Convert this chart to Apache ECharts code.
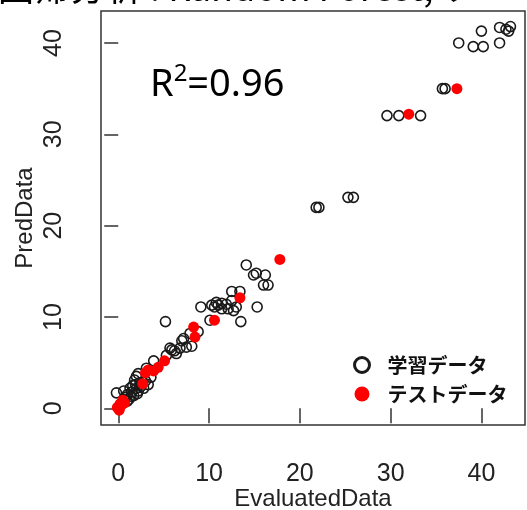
<!DOCTYPE html>
<html>
<head>
<meta charset="utf-8">
<script src="https://cdn.jsdelivr.net/npm/echarts@6/dist/echarts.min.js"></script>
<style>
html, body { margin: 0; padding: 0; background: #fff; }
#main { width: 527px; height: 510px; }
</style>
</head>
<body>
<div id="main"></div>
<script>
// 学習データ (x: EvaluatedData, y: PredData)
var trainData = [
    [37.5, 40.0], [39.1, 39.6], [40.2, 39.6], [40.0, 41.3], [42.0, 40.0],
    [42.0, 41.7], [42.7, 41.5], [43.0, 41.3], [43.2, 41.8],
    [35.7, 35.0], [36.0, 35.0],
    [29.6, 32.05], [30.9, 32.05], [33.3, 32.05],
    [25.3, 23.1], [25.9, 23.1],
    [21.8, 22.0], [22.1, 22.0],
    [14.1, 15.7], [14.9, 14.6], [15.2, 14.8], [16.2, 14.6], [16.0, 13.5], [16.5, 13.5],
    [15.3, 11.1], [13.5, 9.5],
    [12.5, 12.8], [13.4, 12.8], [10.8, 11.6], [11.4, 11.5], [11.9, 11.4], [12.7, 10.7],
    [12.1, 10.9], [11.4, 10.9], [10.6, 11.1], [10.3, 11.3], [9.1, 11.1], [12.5, 11.8],
    [13.0, 11.1], [11.0, 11.3],
    [10.1, 9.65], [5.2, 9.5],
    [7.2, 7.65], [7.9, 8.2], [8.8, 8.4], [7.5, 6.7], [6.8, 6.6], [8.1, 6.8],
    [6.4, 6.0], [5.7, 6.6], [5.3, 5.8], [7.0, 7.4], [6.2, 6.3],
    [3.9, 5.2], [5.9, 6.4], [3.1, 4.4],
    [2.2, 3.8], [1.8, 3.1], [2.0, 3.5],
    [0.5, 0.7], [0.8, 1.2], [1.0, 1.5], [1.2, 1.0], [1.5, 1.8], [1.7, 1.4],
    [2.0, 2.2], [2.2, 1.9], [2.5, 2.4], [2.8, 2.2], [3.0, 3.0], [1.3, 2.2],
    [0.6, 1.0], [1.9, 2.6], [2.4, 2.8], [3.3, 2.6], [3.6, 3.4], [1.6, 2.5],
    [2.1, 1.6], [1.0, 0.8], [2.7, 2.9], [1.4, 1.3],
    [-0.2, 1.7], [0.6, 1.9], [0.2, 0.3]
];
// テストデータ
var testData = [
    [37.3, 35.0], [32.0, 32.2], [17.8, 16.3], [13.4, 12.1], [10.6, 9.65],
    [8.3, 8.9], [8.45, 7.8], [5.1, 5.2], [4.4, 4.5], [3.9, 4.1], [3.3, 4.2],
    [3.0, 3.9], [2.7, 2.7], [0.5, 0.9], [0.2, 0.5], [-0.1, 0.1], [0.1, -0.2],
    [0.3, 0.3], [0.7, 0.6]
];
var tickValues = [0, 10, 20, 30, 40];
var seriesNames = ['学習データ', 'テストデータ'];
var r2Value = '0.96';

var dom = document.getElementById('main');
var myChart = echarts.init(dom);

var axisFont = {fontFamily: 'Liberation Sans', fontSize: 24, color: '#222'};

var option = {
    backgroundColor: '#fff',
    animation: false,
    grid: {
        left: 101,
        top: 11,
        width: 424,
        height: 414,
        outerBoundsMode: 'none',
        containLabel: false,
        show: true,
        borderColor: '#333',
        borderWidth: 1.5
    },
    xAxis: {
        type: 'value',
        min: -1.9,
        max: 44.8,
        name: 'EvaluatedData',
        nameLocation: 'middle',
        nameGap: 62,
        nameMoveOverlap: false,
        nameTextStyle: axisFont,
        axisLine: {show: false},
        splitLine: {show: false},
        axisTick: {
            show: true,
            inside: false,
            length: 15,
            customValues: tickValues,
            lineStyle: {color: '#333', width: 1.5}
        },
        axisLabel: {
            customValues: tickValues,
            margin: 37,
            fontFamily: 'Liberation Sans',
            fontSize: 25,
            color: '#222'
        }
    },
    yAxis: {
        type: 'value',
        min: -1.82,
        max: 43.5,
        name: 'PredData',
        nameLocation: 'middle',
        nameGap: 64,
        nameMoveOverlap: false,
        nameTextStyle: axisFont,
        axisLine: {show: false},
        splitLine: {show: false},
        axisTick: {
            show: true,
            inside: false,
            length: 14,
            customValues: tickValues,
            lineStyle: {color: '#333', width: 1.5}
        },
        axisLabel: {
            customValues: tickValues,
            rotate: 90,
            margin: 34,
            fontFamily: 'Liberation Sans',
            fontSize: 25,
            color: '#222'
        }
    },
    legend: {
        orient: 'vertical',
        left: 348,
        top: 350,
        itemWidth: 15,
        itemHeight: 15,
        itemGap: 9,
        data: [
            {name: seriesNames[0], itemStyle: {borderWidth: 3}},
            {name: seriesNames[1]}
        ],
        textStyle: {
            fontFamily: 'Noto Sans CJK JP',
            fontSize: 20,
            fontWeight: 'bold',
            color: '#111',
            padding: [0, 0, 0, 13]
        }
    },
    graphic: [
        {
            type: 'text',
            left: 150,
            top: 62,
            style: {
                text: '{r|R}{s|2}{r|=' + r2Value + '}',
                rich: {
                    r: {fontFamily: 'Noto Sans', fontSize: 38, fill: '#000', verticalAlign: 'bottom', lineHeight: 42},
                    s: {fontFamily: 'Noto Sans', fontSize: 24, fill: '#000', verticalAlign: 'top', lineHeight: 42, padding: [0, 0, 14, 0]}
                }
            }
        },
        {
            type: 'text',
            left: -2,
            top: -31,
            style: {
                text: '回帰分析 : Random Forest, ソ',
                fontFamily: 'Noto Sans CJK JP',
                fontSize: 36,
                fill: '#000'
            }
        }
    ],
    series: [
        {
            name: seriesNames[0],
            type: 'scatter',
            data: trainData,
            symbol: 'circle',
            symbolSize: 10,
            itemStyle: {
                opacity: 1,
                color: 'rgba(255,255,255,0)',
                borderColor: '#1a1a1a',
                borderWidth: 1.6
            }
        },
        {
            name: seriesNames[1],
            type: 'scatter',
            data: testData,
            symbol: 'circle',
            symbolSize: 11,
            itemStyle: {
                opacity: 1,
                color: '#ff0000'
            }
        }
    ]
};

if (option && typeof option === 'object') {
    myChart.setOption(option, true);
}
window.onresize = function () {
    myChart.resize();
};
</script>
</body>
</html>
